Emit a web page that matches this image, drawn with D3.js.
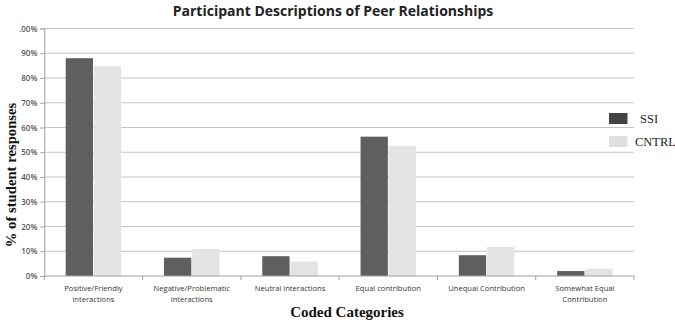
<!DOCTYPE html>
<html><head><meta charset="utf-8">
<script src="https://cdn.jsdelivr.net/npm/d3@7"></script>
<style>body{margin:0;background:#fff}svg{display:block}</style>
</head><body>
<script>
const categories = [["Positive/Friendly","interactions"],["Negative/Problematic","interactions"],["Neutral interactions"],["Equal contribution"],["Unequal Contribution"],["Somewhat Equal","Contribution"]];
const seriesNames = ["SSI","CNTRL"];
const ssiValues = [0.88,0.074,0.080,0.563,0.084,0.020];
const cntrlValues = [0.848,0.109,0.058,0.526,0.118,0.030];
const yTickValues = [0,0.1,0.2,0.3,0.4,0.5,0.6,0.7,0.8,0.9,1.0];
const yTickLabels = ["0%","10%","20%","30%","40%","50%","60%","70%","80%","90%",".00%"];
const colors = ["#5f5f5f","#e4e4e4"];

const W=675,H=323;
const svg=d3.select("body").append("svg").attr("width",W).attr("height",H);
const m={l:44.3,r:634,t:28.5,b:276};
const x=d3.scaleBand().domain(d3.range(categories.length)).range([m.l,m.r]).paddingInner(0).paddingOuter(0);
const y=d3.scaleLinear().domain([0,1]).range([m.b,m.t]);
const x1=d3.scaleBand().domain(seriesNames).range([0,x.bandwidth()]).paddingInner(0.03).paddingOuter(0.76);

// gridlines
svg.append("g").selectAll("line").data(yTickValues.slice(1)).join("line")
  .attr("x1",m.l).attr("x2",m.r).attr("y1",d=>y(d)).attr("y2",d=>y(d))
  .attr("stroke","#c4c4c4").attr("stroke-width",1.2);

// bars
const series=[ssiValues,cntrlValues];
svg.append("g").selectAll("g").data(seriesNames).join("g").attr("fill",(d,i)=>colors[i])
  .selectAll("rect").data((s,i)=>series[i].map((v,j)=>({s,v,j}))).join("rect")
  .attr("x",d=>x(d.j)+x1(d.s)).attr("width",x1.bandwidth())
  .attr("y",d=>y(d.v)).attr("height",d=>y(0)-y(d.v));

// y axis
const ya=svg.append("g").attr("transform",`translate(${m.l},0)`)
  .call(d3.axisLeft(y).tickValues(yTickValues).tickFormat((d,i)=>yTickLabels[i]).tickSize(4).tickPadding(3));
ya.select(".domain").attr("stroke","#a0a0a0");
ya.selectAll(".tick line").attr("stroke","#a0a0a0");
ya.selectAll("text").attr("font-family","Open Sans, sans-serif").attr("font-size",8).attr("font-weight",600).attr("fill","#555");

// x axis
const xa=svg.append("g").attr("transform",`translate(0,${m.b})`);
xa.append("line").attr("x1",m.l).attr("x2",m.r).attr("stroke","#a0a0a0").attr("stroke-width",1.2);
xa.selectAll(".tk").data(d3.range(categories.length+1)).join("line")
  .attr("x1",i=>m.l+i*x.bandwidth()).attr("x2",i=>m.l+i*x.bandwidth()).attr("y1",0).attr("y2",4).attr("stroke","#a0a0a0");
const lab=xa.selectAll(".lab").data(categories).join("text")
  .attr("text-anchor","middle").attr("font-family","Open Sans, sans-serif").attr("font-size",7.6).attr("fill","#333")
  .attr("transform",(d,i)=>`translate(${x(i)+x.bandwidth()/2},15)`);
lab.selectAll("tspan").data(d=>d).join("tspan").attr("x",0).attr("dy",(d,i)=>i?10.5:0).text(d=>d);

// title
svg.append("text").attr("x",333).attr("y",16).attr("text-anchor","middle")
  .attr("font-family","Open Sans, sans-serif").attr("font-weight","bold").attr("font-size",14).attr("fill","#222")
  .text("Participant Descriptions of Peer Relationships");
// axis titles
svg.append("text").attr("transform","translate(16,175) rotate(-90)").attr("text-anchor","middle")
  .attr("font-family","Liberation Serif, serif").attr("font-weight","bold").attr("font-size",14.7).attr("fill","#111")
  .text("% of student responses");
svg.append("text").attr("x",347).attr("y",317).attr("text-anchor","middle")
  .attr("font-family","Liberation Serif, serif").attr("font-weight","bold").attr("font-size",15).attr("fill","#111")
  .text("Coded Categories");

// legend
const lg=svg.append("g");
seriesNames.forEach((s,i)=>{
  lg.append("rect").attr("x",609).attr("y",113+i*23).attr("width",18.5).attr("height",11).attr("fill",i?"#e0e0e0":"#444");
  lg.append("text").attr("x",i?635:640).attr("y",123+i*23).attr("font-family","Liberation Serif, serif")
    .attr("font-size",12.5).attr("fill","#222").text(s);
});
</script>
</body></html>
